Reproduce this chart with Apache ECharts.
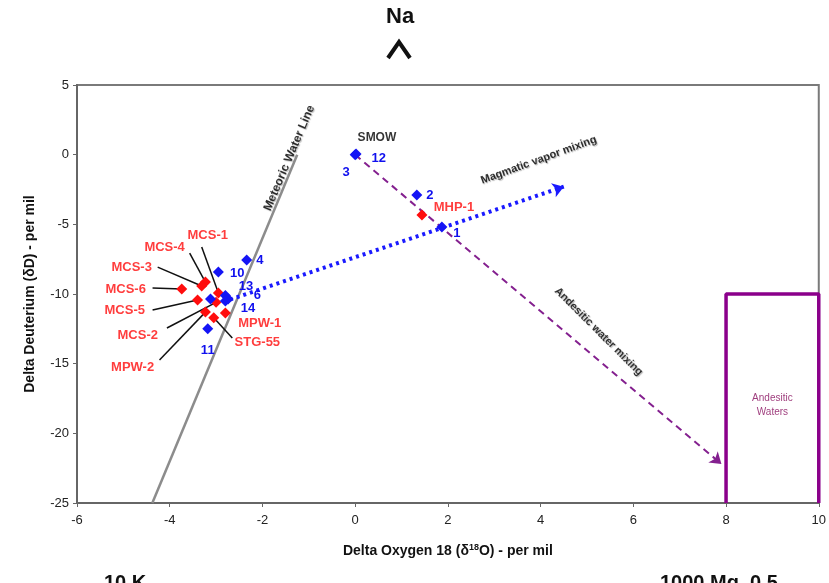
<!DOCTYPE html>
<html lang="en">
<head>
  <meta charset="UTF-8">
  <title>isotope plot</title>
  <script src="https://cdn.jsdelivr.net/npm/echarts@6/dist/echarts.min.js"></script>
  <style>
    body { margin: 0; background: #fff; }
    #id1 { width: 829px; height: 583px; }
  </style>
</head>
<body>
  <div id="id1"></div>
  <script>
    // axis ticks
    let xTicks = { min: -6, max: 10, step: 2 };
    let yTicks = { min: -25, max: 5, step: 5 };

    // blue samples (numbered)
    let blueNames = ['1', '2', '3', '12', '4', '10', '13', '6', '14', '11', ''];
    let blueX = [1.87, 1.33, 0, 0.02, -2.34, -2.95, -2.8, -2.74, -2.8, -3.18, -3.12];
    let blueY = [-5.2, -2.9, 0, 0.05, -7.56, -8.42, -10.1, -10.35, -10.5, -12.5, -10.36];

    // red samples
    let redNames = ['MHP-1', 'MCS-1', 'MCS-4', 'MCS-3', 'MCS-6', 'MCS-5', 'MCS-2', 'MPW-2', 'STG-55', 'MPW-1'];
    let redX = [1.44, -2.95, -3.23, -3.31, -3.74, -3.40, -3.0, -3.23, -3.05, -2.80];
    let redY = [-4.33, -9.93, -9.14, -9.43, -9.64, -10.43, -10.6, -11.3, -11.7, -11.37];

    // red label positions and leader start points (null = no leader)
    let tagX = [2.13, -3.18, -4.11, -4.82, -4.95, -4.97, -4.69, -4.80, -2.11, -2.06];
    let tagY = [-3.76, -5.77, -6.63, -8.07, -9.64, -11.15, -12.95, -15.24, -13.45, -12.09];
    let leadX = [null, -3.31, -3.57, -4.26, -4.37, -4.37, -4.06, -4.22, -2.65, null];
    let leadY = [null, -6.63, -7.06, -8.07, -9.57, -11.15, -12.44, -14.74, -13.16, null];

    // reference lines
    let mwlX = [-4.375, -1.25];   // meteoric water line, dD = 8 d18O + 10
    let mwlY = [-25, 0];
    let vaporX = [-2.7, 4.5];
    let vaporY = [-10.4, -2.3];
    let andesX = [0, 7.9];
    let andesY = [0, -22.2];
    let boxX = [8, 8, 10, 10];
    let boxY = [-25, -10, -10, -25];

    let blueOffsets = {
      '1': ['right', [2, 6]], '2': ['right', [0, 0]], '3': ['bottom', [-9, 2]], '12': ['right', [6, 4]],
      '4': ['right', [0, 0]], '10': ['right', [2, 1]], '13': ['right', [4, -9]], '6': ['right', [16, -3]],
      '14': ['right', [6, 7]], '11': ['bottom', [0, 6]], '': ['right', [0, 0]]
    };

    let FONT = '"Liberation Sans", Arial, sans-serif';
    let NARROW = '"Liberation Sans Narrow", "Liberation Sans", sans-serif';

    let blueData = blueX.map((x, i) => ({
      value: [x, blueY[i]],
      label: {
        show: blueNames[i] !== '',
        formatter: blueNames[i],
        position: blueOffsets[blueNames[i]][0],
        offset: blueOffsets[blueNames[i]][1],
        distance: 4,
        color: '#1010ee', fontWeight: 'bold', fontSize: 13, fontFamily: FONT
      }
    }));

    let redData = redX.map((x, i) => [x, redY[i]]);
    let tagData = tagX.map((x, i) => ({ value: [x, tagY[i]], name: redNames[i] }));

    let leaderSeries = [];
    redNames.forEach((n, i) => {
      if (leadX[i] === null) return;
      leaderSeries.push({
        type: 'line', silent: true, showSymbol: false, z: 2,
        lineStyle: { color: '#111', width: 1.5 },
        data: [[leadX[i], leadY[i]], [redX[i], redY[i]]]
      });
    });

    let textSeries = [
      { text: 'Meteoric Water Line', x: -1.42, y: -0.24, rotate: 67, size: 12 },
      { text: 'Magmatic vapor mixing', x: 3.96, y: -0.38, rotate: 20, size: 11 },
      { text: 'Andesitic water mixing', x: 5.25, y: -12.7, rotate: -45, size: 11 },
      { text: 'SMOW', x: 0.47, y: 1.2, rotate: 0, size: 12 }
    ];

    let dom1 = document.getElementById('id1');
    let instance1 = echarts.init(dom1);
    let option1 = {
      animation: false,
      grid: {
        left: 77, right: 9, top: 85, bottom: 80,
        show: true, borderColor: '#7a7a7a', borderWidth: 2
      },
      xAxis: {
        type: 'value', min: xTicks.min, max: xTicks.max, interval: xTicks.step,
        name: 'Delta Oxygen 18 ({s|\u03b4}{sup|18}{s|O}) - per mil',
        nameLocation: 'middle', nameGap: 40,
        nameTextStyle: {
          fontSize: 14, fontWeight: 'bold', color: '#111', fontFamily: FONT,
          rich: {
            s: { fontSize: 14, fontWeight: 'bold', color: '#111', fontFamily: FONT },
            sup: { fontSize: 9, fontWeight: 'bold', color: '#111', fontFamily: FONT, verticalAlign: 'top', padding: [0, 0, 8, 0] }
          }
        },
        axisLine: { onZero: false, lineStyle: { color: '#666', width: 2 } },
        axisTick: { show: true, length: 4, lineStyle: { color: '#666' } },
        axisLabel: { fontSize: 13, color: '#222', fontFamily: FONT, margin: 11 },
        splitLine: { show: false }
      },
      yAxis: {
        type: 'value', min: yTicks.min, max: yTicks.max, interval: yTicks.step,
        name: 'Delta Deuterium (\u03b4D) - per mil',
        nameLocation: 'middle', nameGap: 40,
        nameTextStyle: { fontSize: 14, fontWeight: 'bold', color: '#111', fontFamily: FONT },
        axisLine: { onZero: false, lineStyle: { color: '#666', width: 2 } },
        axisTick: { show: true, length: 4, lineStyle: { color: '#666' } },
        axisLabel: { fontSize: 13, color: '#222', fontFamily: FONT, margin: 8 },
        splitLine: { show: false }
      },
      graphic: [
        { type: 'text', left: 386, top: 6, style: { text: 'Na', font: 'bold 22px ' + NARROW, fill: '#111' } },
        { type: 'polyline', shape: { points: [[388, 58], [399, 42], [410, 58]] }, style: { stroke: '#111', lineWidth: 4, fill: null } },
        { type: 'text', left: 104, top: 573, style: { text: '10 K', font: 'bold 20px ' + NARROW, fill: '#111' } },
        { type: 'text', left: 660, top: 573, style: { text: '1000 Mg  0.5', font: 'bold 20px ' + NARROW, fill: '#111' } }
      ],
      series: [
        {
          type: 'line', silent: true, showSymbol: false, z: 1,
          lineStyle: { color: '#8c8c8c', width: 2.5 },
          data: mwlX.map((x, i) => [x, mwlY[i]])
        },
        {
          type: 'line', silent: true, showSymbol: false, clip: false, z: 3,
          lineStyle: { color: '#8b008b', width: 3.5 },
          data: boxX.map((x, i) => [x, boxY[i]]),
          markPoint: {
            symbol: 'circle', symbolSize: 0,
            label: {
              show: true, formatter: 'Andesitic\nWaters', color: '#a0407f',
              fontSize: 10, lineHeight: 14, fontFamily: FONT, align: 'center'
            },
            data: [{ coord: [9, -18] }]
          }
        },
        {
          type: 'line', silent: true, showSymbol: false, z: 2, data: [],
          markLine: {
            silent: true, symbol: ['none', 'arrow'], symbolSize: [11, 11],
            label: { show: false },
            data: [
              [
                { coord: [vaporX[0], vaporY[0]], lineStyle: { color: '#1a1aff', width: 4, type: [3, 4] } },
                { coord: [vaporX[1], vaporY[1]] }
              ],
              [
                { coord: [andesX[0], andesY[0]], lineStyle: { color: '#84208f', width: 2, type: [7, 5] } },
                { coord: [andesX[1], andesY[1]] }
              ]
            ]
          }
        },
        ...leaderSeries,
        {
          type: 'scatter', name: 'red', symbol: 'diamond', symbolSize: 11, z: 5,
          itemStyle: { color: '#ff0d0d', opacity: 1 },
          data: redData
        },
        {
          type: 'scatter', name: 'blue', symbol: 'diamond', symbolSize: 11, z: 6,
          itemStyle: { color: '#1414f5', opacity: 1 },
          data: blueData
        },
        {
          type: 'scatter', symbolSize: 0, silent: true, z: 7,
          label: {
            show: true, position: 'inside', formatter: p => p.name,
            color: '#ff0d0d', fontWeight: 'bold', fontSize: 13, fontFamily: FONT
          },
          data: tagData
        },
        {
          type: 'scatter', symbolSize: 0, silent: true, z: 7,
          data: textSeries.map(t => ({
            value: [t.x, t.y],
            label: {
              show: true, position: 'inside', formatter: t.text, rotate: t.rotate,
              color: '#000', fontWeight: 'bold', fontSize: t.size,
              fontFamily: t.text === 'SMOW' ? FONT : NARROW,
              textShadowColor: t.text === 'SMOW' ? 'transparent' : 'rgba(0,0,0,0.35)',
              textShadowBlur: 1, textShadowOffsetX: 1, textShadowOffsetY: 1
            }
          }))
        }
      ]
    };

    instance1.setOption(option1);
  </script>
</body>
</html>
